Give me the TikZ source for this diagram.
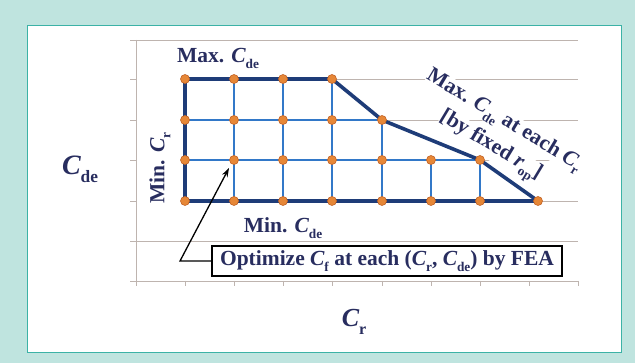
\documentclass[tikz,border=0pt]{standalone}
\usepackage{fontspec}
\setmainfont{Liberation Serif}
\usetikzlibrary{arrows.meta}
\definecolor{bgteal}{RGB}{191,228,223}
\definecolor{borderteal}{RGB}{60,178,166}
\definecolor{navy}{RGB}{40,45,95}
\definecolor{thickc}{RGB}{30,60,120}
\definecolor{thinc}{RGB}{50,120,200}
\definecolor{orangef}{RGB}{230,135,55}
\definecolor{oranged}{RGB}{195,100,40}
\definecolor{gridc}{RGB}{190,180,175}
\newcommand{\Csb}[1]{\textit{C}\kern-0.3pt\raisebox{-0.28em}{\scalebox{0.62}{#1}}}
\begin{document}
\begin{tikzpicture}[x=1pt,y=-1pt,
  txt/.style={text=navy,font=\fontsize{21.5}{25}\selectfont\bfseries,inner sep=1pt},
  gridl/.style={draw=gridc,line width=0.8pt},
  dot/.style={circle,fill=orangef,draw=oranged,line width=0.6pt,minimum size=9pt,inner sep=0pt},
  thickb/.style={draw=thickc,line width=3.6pt,line join=round},
  thinb/.style={draw=thinc,line width=1.8pt}]
\useasboundingbox (0,0) rectangle (635,363);
\fill[bgteal] (0,0) rectangle (635,363);
\draw[fill=white,draw=borderteal,line width=1pt] (27,26) rectangle (621,353);
% chart grid
\foreach \y in {40,241,281} \draw[gridl] (136,\y) -- (578,\y);
\foreach \y in {79,120,160,201} \draw[gridl] (185,\y) -- (578,\y);
\draw[gridl] (136,40) -- (136,281);
\foreach \y in {40,79,120,160,201,241,281} \draw[gridl] (130,\y) -- (136,\y);
\foreach \i in {0,...,9} \draw[gridl] (136+49.2*\i,281) -- (136+49.2*\i,286);
% label on slope (white backed)
\node[txt,fill=white,rotate=-31,inner sep=0pt] (lmaxa) at (504,121)
  {Max. \Csb{de} at each \Csb{r}};
\node[txt,fill=white,rotate=-31,inner sep=0pt] (lmaxb) at (490,147)
  {{[}by fixed \textit{r}\kern-0.3pt\raisebox{-0.28em}{\scalebox{0.62}{op}}{]}};
% grid coordinates
\foreach \c/\x in {0/185,1/234,2/283,3/332,4/382,5/431,6/480,7/538}
  \foreach \r/\y in {0/201,1/160,2/120,3/79}
    \coordinate (p\c\r) at (\x,\y);
% thin lines
\draw[thinb] (p02) -- (p42);
\draw[thinb] (p01) -- (p61);
\draw[thinb] (p10) -- (p13);
\draw[thinb] (p20) -- (p23);
\draw[thinb] (p30) -- (p33);
\draw[thinb] (p40) -- (p42);
\draw[thinb] (p50) -- (p51);
\draw[thinb] (p60) -- (p61);
% thick boundary
\draw[thickb] (p00) -- (p03) -- (p33) -- (p42) -- (p61) -- (p70) -- cycle;
% dots
\foreach \c in {0,...,3} \node[dot] (d\c3) at (p\c3) {};
\foreach \c in {0,...,4} \node[dot] (d\c2) at (p\c2) {};
\foreach \c in {0,...,6} \node[dot] (d\c1) at (p\c1) {};
\foreach \c in {0,...,7} \node[dot] (d\c0) at (p\c0) {};
% labels
\node[txt] (lmaxde) at (218,58) {Max. \Csb{de}};
\node[txt,rotate=90] (lminr) at (160,168) {Min. \Csb{r}};
\node[txt] (lminde) at (283,228) {Min. \Csb{de}};
\node[txt,draw=black,line width=2.4pt,fill=white,inner xsep=8pt,inner ysep=4.5pt] (box) at (387,261)
  {Optimize \Csb{f} at each (\Csb{r}, \Csb{de}) by FEA};
\coordinate (bend) at (180,261);
\coordinate (tip) at (229,168);
\draw[-{Stealth[length=9pt,width=6pt]},line width=1.3pt] (box.west) -- (bend) -- (tip);
% axis titles
\node[text=navy,font=\fontsize{28}{32}\selectfont\bfseries] (ycde) at (80,169) {\Csb{de}};
\node[text=navy,font=\fontsize{26}{30}\selectfont\bfseries] (xcr) at (354,322) {\Csb{r}};
\end{tikzpicture}
\end{document}
